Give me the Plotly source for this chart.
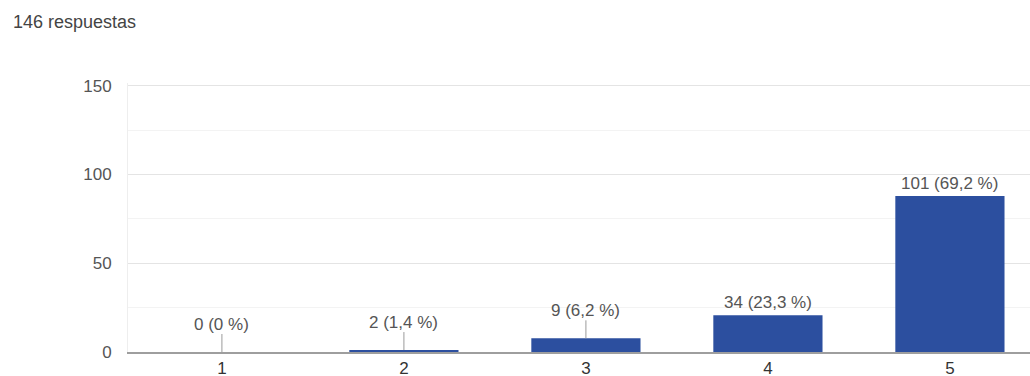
import plotly.graph_objects as go

# ---- data ----
categories = ["1", "2", "3", "4", "5"]
counts = [0, 2, 9, 34, 101]
percents = ["0", "1,4", "6,2", "23,3", "69,2"]
bar_heights = [0, 1.1, 7.7, 20.7, 87.8]   # bar tops as drawn in the picture
y_ticks = [0, 50, 100, 150]
total_label = "146 respuestas"

labels = [f"{c} ({p} %)" for c, p in zip(counts, percents)]

BAR = "#2c4f9f"
TEXT = "#555555"
FONT = "Liberation Sans, Arial"

W, H = 1030, 376
ML, MR, MT, MB = 128, 0, 83, 24
pw, ph = W - ML - MR, H - MT - MB

fig = go.Figure(
    go.Bar(
        x=categories,
        y=bar_heights,
        marker=dict(color=BAR, line=dict(width=0)),
        width=0.6,
        hoverinfo="skip",
    )
)

annotations = []
for i, (h, lab) in enumerate(zip(bar_heights, labels)):
    if h < 15:
        annotations.append(dict(
            x=i, y=h, xref="x", yref="y", text=lab,
            showarrow=True, arrowhead=0, arrowwidth=1, arrowcolor="#9a9a9a",
            ax=0, ay=-28, standoff=0, borderpad=0,
            font=dict(size=17, color=TEXT, family=FONT),
        ))
    else:
        annotations.append(dict(
            x=i, y=h, xref="x", yref="y", text=lab,
            showarrow=False, yanchor="bottom", yshift=1,
            font=dict(size=17, color=TEXT, family=FONT),
        ))

annotations.append(dict(
    x=(11 - ML) / pw, y=1 + (MT - 22) / ph, xref="paper", yref="paper",
    text=total_label, showarrow=False, xanchor="left", yanchor="middle",
    font=dict(size=18, color="#444444", family=FONT),
))

fig.update_layout(
    width=W, height=H,
    margin=dict(l=ML, r=MR, t=MT, b=MB, autoexpand=False),
    paper_bgcolor="white", plot_bgcolor="white",
    showlegend=False,
    annotations=annotations,
    font=dict(family=FONT, size=17, color=TEXT),
    xaxis=dict(
        type="category",
        range=[-0.516, 4.44],
        showgrid=False,
        showline=True, linecolor="#9e9e9e", linewidth=2,
        ticks="", tickfont=dict(size=17, color="#333333"),
        automargin=False,
        fixedrange=True,
    ),
    yaxis=dict(
        range=[0, 151.5],
        tickvals=y_ticks,
        showgrid=True, gridcolor="#e4e4e4", gridwidth=1,
        minor=dict(dtick=25, tick0=0, showgrid=True, gridcolor="#f3f3f3", gridwidth=1),
        showline=True, linecolor="#eeeeee", linewidth=1,
        zeroline=False,
        ticks="", ticklabelstandoff=12,
        tickfont=dict(size=17, color=TEXT),
        automargin=False,
        fixedrange=True,
    ),
)

# remove the default 8px page margin so the figure fills the window exactly
fig.write_html(
    "out.html",
    config={"displayModeBar": False},
    post_script="document.body.style.margin='0';document.body.style.overflow='hidden';",
)
